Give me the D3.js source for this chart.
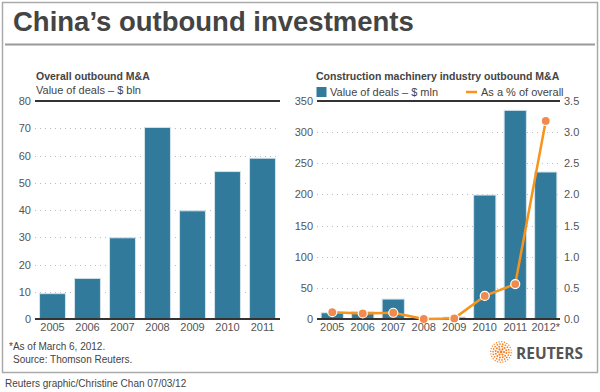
<!DOCTYPE html>
<html>
<head>
<meta charset="utf-8">
<script src="https://cdn.jsdelivr.net/npm/d3@7"></script>
<style>
  body { margin: 0; background: #fff; }
  svg text { font-family: "Liberation Sans", Arial, sans-serif; }
</style>
</head>
<body>
<svg id="chart" width="600" height="392"></svg>
<script>
var overallYears = ["2005", "2006", "2007", "2008", "2009", "2010", "2011"];
var overallValues = [9.3, 14.9, 29.8, 70.3, 39.7, 54.1, 59.0];
var overallTicks = [0, 10, 20, 30, 40, 50, 60, 70, 80];

var machYears = ["2005", "2006", "2007", "2008", "2009", "2010", "2011", "2012*"];
var machValues = [10, 12, 32, 0.5, 3, 199, 335, 236];
var machPct = [0.11, 0.09, 0.10, 0.0, 0.01, 0.37, 0.56, 3.18];
var machTicks = [0, 50, 100, 150, 200, 250, 300, 350];
var pctTicks = [0, 0.5, 1, 1.5, 2, 2.5, 3, 3.5];

var barColor = "#317a9b";
var lineColor = "#f7941d";
var dotColor = "#f08a4e";
var textColor = "#555";

var svg = d3.select("#chart");
var plotTop = 101, plotBottom = 319;

svg.append("rect").attr("width", 600).attr("height", 392).attr("fill", "#fff");

// frame + header
svg.append("rect")
    .attr("x", 2.5).attr("y", 2.5).attr("width", 595).attr("height", 370)
    .attr("fill", "none").attr("stroke", "#aaa").attr("stroke-width", 1.5);

svg.append("text")
    .attr("x", 13).attr("y", 31)
    .attr("font-size", "27.5px").attr("font-weight", "bold")
    .attr("fill", "#444")
    .text("China\u2019s outbound investments");

svg.append("line")
    .attr("x1", 5).attr("x2", 595).attr("y1", 44.5).attr("y2", 44.5)
    .attr("stroke", "#999").attr("stroke-width", 2);

function gridAndFrame(g, y, ticks, x0, x1){
    // dotted gridlines
    g.selectAll("line.grid").data(ticks.slice(1, -1)).enter().append("line")
        .attr("class", "grid")
        .attr("x1", x0).attr("x2", x1)
        .attr("y1", function(d){ return Math.round(y(d)) + 0.5; })
        .attr("y2", function(d){ return Math.round(y(d)) + 0.5; })
        .attr("stroke", "#bbb").attr("stroke-width", 1)
        .attr("stroke-dasharray", "1,4");
    // top rule
    g.append("line")
        .attr("x1", x0).attr("x2", x1)
        .attr("y1", y(ticks[ticks.length-1])).attr("y2", y(ticks[ticks.length-1]))
        .attr("stroke", "#333").attr("stroke-width", 2);
}

function styleAxis(a){
    a.select(".domain").remove();
    a.selectAll("text").attr("fill", textColor).attr("font-size", "11px")
        .attr("font-family", "Liberation Sans, Arial, sans-serif");
}

// ---------- left chart ----------
var left = svg.append("g");
var x1 = d3.scaleBand().domain(overallYears).range([35, 280]).paddingInner(0.26).paddingOuter(0.13);
var y1 = d3.scaleLinear().domain([0, 80]).range([plotBottom, plotTop]);

left.append("text").attr("x", 36).attr("y", 80)
    .attr("font-size", "10.5px").attr("font-weight", "bold").attr("fill", "#444")
    .text("Overall outbound M&A");
left.append("text").attr("x", 36).attr("y", 94)
    .attr("font-size", "11px").attr("fill", "#444")
    .text("Value of deals \u2013 $ bln");

gridAndFrame(left, y1, overallTicks, 35, 280);

left.selectAll("rect.bar").data(overallValues).enter().append("rect")
    .attr("class", "bar")
    .attr("x", function(d, i){ return x1(overallYears[i]); })
    .attr("width", x1.bandwidth())
    .attr("y", function(d){ return y1(d); })
    .attr("height", function(d){ return y1(0) - y1(d); })
    .attr("fill", barColor)
    .attr("stroke", "#d3e4ec").attr("stroke-width", 1);

left.append("line").attr("x1", 35).attr("x2", 280)
    .attr("y1", plotBottom).attr("y2", plotBottom)
    .attr("stroke", "#333").attr("stroke-width", 2);

left.append("g").attr("transform", "translate(35,0)")
    .call(d3.axisLeft(y1).tickValues(overallTicks).tickSize(0).tickPadding(4))
    .call(styleAxis);
left.append("g").attr("transform", "translate(0," + plotBottom + ")")
    .call(d3.axisBottom(x1).tickSize(0).tickPadding(4))
    .call(styleAxis);

// ---------- right chart ----------
var right = svg.append("g");
var x2 = d3.scaleBand().domain(machYears).range([317, 561]).paddingInner(0.27).paddingOuter(0.135);
var y2 = d3.scaleLinear().domain([0, 350]).range([plotBottom, plotTop]);
var y3 = d3.scaleLinear().domain([0, 3.5]).range([plotBottom, plotTop]);

right.append("text").attr("x", 316).attr("y", 80)
    .attr("font-size", "10.5px").attr("font-weight", "bold").attr("fill", "#444")
    .text("Construction machinery industry outbound M&A");

right.append("rect").attr("x", 316.5).attr("y", 87).attr("width", 10).attr("height", 10)
    .attr("fill", barColor);
right.append("text").attr("x", 330).attr("y", 96)
    .attr("font-size", "11px").attr("fill", "#444")
    .text("Value of deals \u2013 $ mln");
right.append("line").attr("x1", 466).attr("x2", 477).attr("y1", 92).attr("y2", 92)
    .attr("stroke", lineColor).attr("stroke-width", 2.5);
right.append("text").attr("x", 481).attr("y", 96)
    .attr("font-size", "11px").attr("fill", "#444")
    .text("As a % of overall");

gridAndFrame(right, y2, machTicks, 317, 560);

right.selectAll("rect.bar").data(machValues).enter().append("rect")
    .attr("class", "bar")
    .attr("x", function(d, i){ return x2(machYears[i]); })
    .attr("width", x2.bandwidth())
    .attr("y", function(d){ return y2(d); })
    .attr("height", function(d){ return y2(0) - y2(d); })
    .attr("fill", barColor)
    .attr("stroke", "#d3e4ec").attr("stroke-width", 1);

right.append("line").attr("x1", 317).attr("x2", 560)
    .attr("y1", plotBottom).attr("y2", plotBottom)
    .attr("stroke", "#333").attr("stroke-width", 2);

var line = d3.line()
    .x(function(d, i){ return x2(machYears[i]) + x2.bandwidth()/2; })
    .y(function(d){ return y3(d); });

right.append("path").datum(machPct)
    .attr("d", line)
    .attr("fill", "none").attr("stroke", lineColor).attr("stroke-width", 2.5)
    .attr("stroke-linejoin", "round");

right.selectAll("circle.pt").data(machPct).enter().append("circle")
    .attr("class", "pt")
    .attr("cx", function(d, i){ return x2(machYears[i]) + x2.bandwidth()/2; })
    .attr("cy", function(d){ return y3(d); })
    .attr("r", 4.5)
    .attr("fill", dotColor).attr("stroke", "#fff").attr("stroke-width", 1.2);

right.append("g").attr("transform", "translate(317,0)")
    .call(d3.axisLeft(y2).tickValues(machTicks).tickSize(0).tickPadding(4))
    .call(styleAxis);
right.append("g").attr("transform", "translate(560,0)")
    .call(d3.axisRight(y3).tickValues(pctTicks).tickSize(0).tickPadding(4).tickFormat(d3.format(".1f")))
    .call(styleAxis);
right.append("g").attr("transform", "translate(0," + plotBottom + ")")
    .call(d3.axisBottom(x2).tickSize(0).tickPadding(4))
    .call(styleAxis);

// ---------- footer ----------
var narrow = "'Liberation Sans Narrow', 'Arial Narrow', 'Liberation Sans', sans-serif";
svg.append("text").attr("x", 9).attr("y", 350)
    .attr("font-size", "10px").attr("fill", "#444").style("font-family", narrow)
    .text("*As of March 6, 2012.");
svg.append("text").attr("x", 13).attr("y", 363)
    .attr("font-size", "10px").attr("fill", "#444").style("font-family", narrow)
    .text("Source: Thomson Reuters.");
svg.append("text").attr("x", 5).attr("y", 387)
    .attr("font-size", "10px").attr("fill", "#444").style("font-family", narrow)
    .text("Reuters graphic/Christine Chan  07/03/12");

// Reuters dot logo
var logo = svg.append("g").attr("transform", "translate(501,352)");
var rings = [{r: 3, n: 6, s: 1.1}, {r: 5.5, n: 12, s: 1.0}, {r: 8, n: 18, s: 0.85}, {r: 10.3, n: 24, s: 0.7}];
rings.forEach(function(ring, k){
    for(var i = 0; i < ring.n; i++){
        var a = (i / ring.n) * 2 * Math.PI + k * 0.2;
        logo.append("circle")
            .attr("cx", ring.r * Math.cos(a)).attr("cy", ring.r * Math.sin(a))
            .attr("r", ring.s).attr("fill", "#f58025");
    }
});
logo.append("circle").attr("r", 1.4).attr("fill", "#f58025");

svg.append("text").attr("x", 516).attr("y", 359)
    .attr("font-size", "15.5px").attr("font-weight", "bold").attr("fill", "#555")
    .style("font-family", "'Open Sans', 'Liberation Sans', sans-serif")
    .text("REUTERS");
</script>
</body>
</html>
